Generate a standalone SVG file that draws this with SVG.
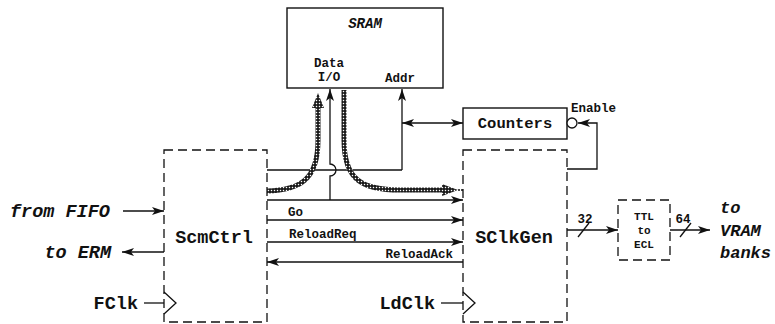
<svg xmlns="http://www.w3.org/2000/svg" width="775" height="324" viewBox="0 0 775 324">
<style>
.t{font-family:"Liberation Mono","Courier New",monospace;font-weight:bold;fill:#111}
.big{font-size:18.5px}
.med{font-size:15.5px}
.sm{font-size:12.5px}
.it{font-style:italic}
.box{fill:#fff;stroke:#111;stroke-width:1.4}
.dbox{fill:none;stroke:#111;stroke-width:1.3;stroke-dasharray:9 5}
.ln{fill:none;stroke:#111;stroke-width:1.3}
.hatch{fill:none;stroke:url(#hp);stroke-width:5}
</style>
<defs>
<pattern id="hp" width="3" height="3" patternUnits="userSpaceOnUse">
<rect width="3" height="3" fill="#111"/>
<rect x="0.8" y="0.8" width="1.4" height="1.4" fill="#fff"/>
</pattern>
<marker id="ar" viewBox="0 0 12 8" refX="12" refY="4" markerWidth="12" markerHeight="8" markerUnits="userSpaceOnUse" orient="auto-start-reverse">
<path d="M0,0 L12,4 L0,8 L3,4 Z" fill="#111"/>
</marker>
</defs>

<g id="SRAM">
<rect class="box" x="287" y="8" width="156" height="80"/>
<text class="t it" x="365" y="28" font-size="14" text-anchor="middle">SRAM</text>
<text class="t sm" x="329" y="67" text-anchor="middle">Data</text>
<text class="t sm" x="329" y="81" text-anchor="middle">I/O</text>
<text class="t sm" x="400" y="82" text-anchor="middle">Addr</text>
</g>

<g id="Counters">
<rect class="box" x="463" y="108" width="104" height="31"/>
<text class="t med" x="515" y="128" text-anchor="middle">Counters</text>
<circle cx="572" cy="123" r="5" fill="#fff" stroke="#111" stroke-width="1.3"/>
<text class="t sm" x="571" y="112">Enable</text>
</g>

<g id="ScmCtrl">
<rect class="dbox" x="164" y="150" width="103" height="172"/>
<text class="t big" x="214" y="243" text-anchor="middle">ScmCtrl</text>
</g>

<g id="SClkGen">
<rect class="dbox" x="463" y="150" width="104" height="172"/>
<text class="t big" x="514" y="243" text-anchor="middle">SClkGen</text>
</g>

<g id="TTL">
<rect class="dbox" x="618" y="200" width="52" height="60"/>
<text class="t" font-size="11" x="644" y="220" text-anchor="middle">TTL</text>
<text class="t" font-size="11" x="644" y="234" text-anchor="middle">to</text>
<text class="t" font-size="11" x="644" y="248" text-anchor="middle">ECL</text>
</g>

<g id="labels">
<text class="t big it" x="10" y="217">from FIFO</text>
<text class="t big it" x="111" y="258" text-anchor="end">to ERM</text>
<text class="t big" x="138" y="309" text-anchor="end">FClk</text>
<text class="t big" x="435" y="309" text-anchor="end">LdClk</text>
<text class="t it" font-size="17" x="720" y="213">to</text>
<text class="t it" font-size="17" x="720" y="236">VRAM</text>
<text class="t it" font-size="17" x="720" y="258">banks</text>
</g>

<g id="connectors">
<line class="ln" x1="123" y1="211" x2="164" y2="211" marker-end="url(#ar)"/>
<line class="ln" x1="164" y1="252" x2="122" y2="252" marker-end="url(#ar)"/>
<line class="ln" x1="144" y1="303" x2="164" y2="303"/>
<polyline class="ln" points="164,292 176,303 164,314"/>
<line class="ln" x1="441" y1="303" x2="463" y2="303"/>
<polyline class="ln" points="463,292 475,303 463,314"/>

<line class="ln" x1="267" y1="200" x2="463" y2="200" marker-end="url(#ar)"/>
<path class="ln" d="M330,200 L330,176 A6,6 0 0 0 330,164 L330,89" marker-end="url(#ar)"/>

<line class="ln" x1="267" y1="170" x2="402" y2="170"/>
<line class="ln" x1="402" y1="170" x2="402" y2="89" marker-end="url(#ar)"/>
<line class="ln" x1="402" y1="123" x2="463" y2="123" marker-start="url(#ar)" marker-end="url(#ar)"/>

<polyline class="ln" points="567,169 597,169 597,123 578,123" marker-end="url(#ar)"/>

<line class="ln" x1="267" y1="220" x2="463" y2="220" marker-end="url(#ar)"/>
<text class="t sm" x="288" y="216">Go</text>
<line class="ln" x1="267" y1="242" x2="463" y2="242" marker-end="url(#ar)"/>
<text class="t sm" x="289" y="238">ReloadReq</text>
<line class="ln" x1="463" y1="262" x2="267" y2="262" marker-end="url(#ar)"/>
<text class="t sm" x="453" y="258" text-anchor="end">ReloadAck</text>

<path class="hatch" d="M267,191 C300,190 318,180 318,140 L318,106"/>
<path d="M312,108 L318,93 L324,108 Z" fill="url(#hp)"/>
<path class="hatch" d="M344,90 L344,140 C344,180 362,190 400,190 L444,190"/>
<path d="M442,184 L458,190 L442,196 Z" fill="url(#hp)"/>
<line class="ln" x1="458" y1="190" x2="463" y2="190" stroke-dasharray="2 1"/>

<line class="ln" x1="567" y1="230" x2="618" y2="230" marker-end="url(#ar)"/>
<line class="ln" x1="578" y1="237" x2="589" y2="223"/>
<text class="t sm" x="585" y="223" text-anchor="middle">32</text>
<line class="ln" x1="670" y1="230" x2="710" y2="230" marker-end="url(#ar)"/>
<line class="ln" x1="680" y1="237" x2="691" y2="223"/>
<text class="t sm" x="683" y="223" text-anchor="middle">64</text>
</g>
</svg>
